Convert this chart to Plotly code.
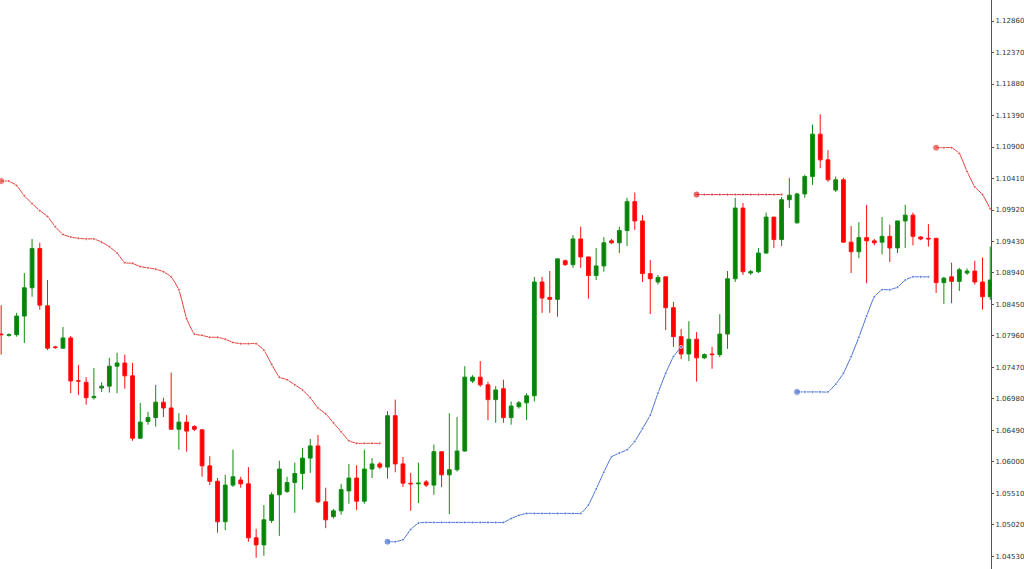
import plotly.graph_objects as go

# OHLC per bar (index = bar number)
opens = [1.0799, 1.0797, 1.0798, 1.0827, 1.0871, 1.0932, 1.0843, 1.0779, 1.0777, 1.0793,
         1.0726, 1.0724, 1.0700, 1.0715, 1.0718, 1.0749, 1.0754, 1.0734, 1.0637, 1.0663,
         1.0669, 1.0693, 1.0684, 1.0651, 1.0662, 1.0655, 1.0650, 1.0594, 1.0570, 1.0507,
         1.0564, 1.0572, 1.0566, 1.0482, 1.0471, 1.0509, 1.0549, 1.0554, 1.0568, 1.0582,
         1.0606, 1.0625, 1.0538, 1.0515, 1.0524, 1.0555, 1.0575, 1.0539, 1.0589, 1.0597,
         1.0592, 1.0672, 1.0597, 1.0567, 1.0566, 1.0569, 1.0564, 1.0616, 1.0580, 1.0588,
         1.0617, 1.0726, 1.0732, 1.0720, 1.0697, 1.0714, 1.0669, 1.0686, 1.0692, 1.0703,
         1.0880, 1.0856, 1.0853, 1.0913, 1.0907, 1.0947, 1.0919, 1.0890, 1.0905, 1.0944,
         1.0941, 1.0960, 1.1005, 1.0975, 1.0893, 1.0880, 1.0888, 1.0840, 1.0795, 1.0768,
         1.0791, 1.0762, 1.0768, 1.0767, 1.0799, 1.0885, 1.0995, 1.0894, 1.0896, 1.0925,
         1.0981, 1.0946, 1.1008, 1.0972, 1.1017, 1.1044, 1.1110, 1.1070, 1.1023, 1.1039,
         1.0942, 1.0927, 1.0949, 1.0944, 1.0942, 1.0951, 1.0933, 1.0975, 1.0984, 1.0950,
         1.0948, 1.0948, 1.0879, 1.0888, 1.0881, 1.0894, 1.0897, 1.0880, 1.0857]
highs = [1.0844, 1.0800, 1.0832, 1.0894, 1.0947, 1.0941, 1.0883, 1.0781, 1.0810, 1.0796,
         1.0751, 1.0732, 1.0746, 1.0724, 1.0762, 1.0770, 1.0767, 1.0754, 1.0692, 1.0678,
         1.0720, 1.0700, 1.0739, 1.0676, 1.0673, 1.0657, 1.0651, 1.0609, 1.0575, 1.0580,
         1.0619, 1.0577, 1.0592, 1.0496, 1.0533, 1.0553, 1.0602, 1.0577, 1.0599, 1.0622,
         1.0636, 1.0642, 1.0560, 1.0527, 1.0566, 1.0597, 1.0595, 1.0619, 1.0606, 1.0600,
         1.0679, 1.0697, 1.0608, 1.0583, 1.0599, 1.0572, 1.0627, 1.0616, 1.0676, 1.0670,
         1.0749, 1.0735, 1.0757, 1.0725, 1.0718, 1.0728, 1.0694, 1.0695, 1.0707, 1.0888,
         1.0888, 1.0897, 1.0916, 1.0915, 1.0953, 1.0966, 1.0919, 1.0933, 1.0950, 1.0947,
         1.0966, 1.1011, 1.1019, 1.0984, 1.0914, 1.0891, 1.0888, 1.0849, 1.0807, 1.0819,
         1.0802, 1.0769, 1.0779, 1.0830, 1.0897, 1.1011, 1.1003, 1.0899, 1.0933, 1.0988,
         1.0981, 1.1012, 1.1042, 1.1019, 1.1047, 1.1125, 1.1141, 1.1085, 1.1044, 1.1042,
         1.0967, 1.0973, 1.1000, 1.0947, 1.0981, 1.0969, 1.0975, 1.1000, 1.0988, 1.0951,
         1.0970, 1.0948, 1.0888, 1.0910, 1.0902, 1.0901, 1.0913, 1.0918, 1.0935]
lows = [1.0767, 1.0795, 1.0795, 1.0785, 1.0857, 1.0837, 1.0774, 1.0776, 1.0776, 1.0707,
        1.0704, 1.0689, 1.0697, 1.0709, 1.0708, 1.0707, 1.0714, 1.0633, 1.0636, 1.0658,
        1.0655, 1.0670, 1.0650, 1.0619, 1.0616, 1.0648, 1.0577, 1.0564, 1.0490, 1.0494,
        1.0561, 1.0560, 1.0476, 1.0451, 1.0454, 1.0505, 1.0485, 1.0552, 1.0521, 1.0557,
        1.0583, 1.0536, 1.0497, 1.0512, 1.0518, 1.0535, 1.0525, 1.0535, 1.0575, 1.0589,
        1.0574, 1.0584, 1.0561, 1.0524, 1.0536, 1.0561, 1.0549, 1.0561, 1.0519, 1.0585,
        1.0616, 1.0723, 1.0717, 1.0665, 1.0661, 1.0661, 1.0658, 1.0683, 1.0665, 1.0694,
        1.0832, 1.0832, 1.0826, 1.0905, 1.0902, 1.0902, 1.0854, 1.0883, 1.0896, 1.0939,
        1.0925, 1.0936, 1.0961, 1.0880, 1.0830, 1.0876, 1.0805, 1.0779, 1.0760, 1.0757,
        1.0725, 1.0760, 1.0745, 1.0763, 1.0776, 1.0880, 1.0891, 1.0891, 1.0894, 1.0924,
        1.0933, 1.0936, 1.0995, 1.0971, 1.1011, 1.1031, 1.1057, 1.1036, 1.1020, 1.0941,
        1.0894, 1.0917, 1.0878, 1.0937, 1.0923, 1.0911, 1.0925, 1.0933, 1.0937, 1.0945,
        1.0935, 1.0863, 1.0846, 1.0847, 1.0866, 1.0891, 1.0876, 1.0837, 1.0852]
closes = [1.0798, 1.0798, 1.0827, 1.0871, 1.0932, 1.0844, 1.0777, 1.0778, 1.0793, 1.0726,
          1.0726, 1.0700, 1.0702, 1.0718, 1.0749, 1.0754, 1.0734, 1.0637, 1.0662, 1.0669,
          1.0693, 1.0684, 1.0651, 1.0662, 1.0648, 1.0651, 1.0594, 1.0570, 1.0507, 1.0564,
          1.0577, 1.0566, 1.0482, 1.0471, 1.0510, 1.0549, 1.0589, 1.0568, 1.0582, 1.0606,
          1.0625, 1.0538, 1.0510, 1.0524, 1.0557, 1.0575, 1.0539, 1.0589, 1.0597, 1.0592,
          1.0672, 1.0597, 1.0567, 1.0566, 1.0567, 1.0564, 1.0616, 1.0580, 1.0588, 1.0617,
          1.0732, 1.0732, 1.0720, 1.0697, 1.0712, 1.0669, 1.0687, 1.0692, 1.0703, 1.0880,
          1.0855, 1.0853, 1.0916, 1.0907, 1.0947, 1.0919, 1.0890, 1.0905, 1.0941, 1.0941,
          1.0960, 1.1005, 1.0975, 1.0893, 1.0885, 1.0887, 1.0840, 1.0795, 1.0768, 1.0791,
          1.0762, 1.0767, 1.0767, 1.0799, 1.0885, 1.0995, 1.0896, 1.0896, 1.0925, 1.0981,
          1.0946, 1.1008, 1.1015, 1.1017, 1.1044, 1.1110, 1.1070, 1.1039, 1.1039, 1.0942,
          1.0927, 1.0949, 1.0944, 1.0941, 1.0951, 1.0933, 1.0975, 1.0984, 1.0951, 1.0947,
          1.0947, 1.0879, 1.0886, 1.0881, 1.0899, 1.0897, 1.0880, 1.0857, 1.0883]
bars = list(range(len(opens)))

# trailing stop style lines: (first bar, values)
red_1 = (0, [1.1037, 1.1037, 1.1030, 1.1014, 1.1002, 1.0991, 1.0982, 1.0966, 1.0954, 1.0950,
             1.0948, 1.0947, 1.0947, 1.0942, 1.0935, 1.0925, 1.0910, 1.0909, 1.0904, 1.0902,
             1.0900, 1.0896, 1.0888, 1.0868, 1.0823, 1.0799, 1.0797, 1.0794, 1.0794, 1.0791,
             1.0786, 1.0784, 1.0784, 1.0784, 1.0774, 1.0752, 1.0732, 1.0728, 1.0720, 1.0712,
             1.0700, 1.0684, 1.0675, 1.0661, 1.0647, 1.0633, 1.0629, 1.0629, 1.0629, 1.0629])
blue_1 = (50, [1.0476, 1.0476, 1.0479, 1.0495, 1.0505, 1.0506, 1.0506, 1.0506, 1.0506, 1.0506,
               1.0506, 1.0506, 1.0506, 1.0506, 1.0506, 1.0506, 1.0512, 1.0517, 1.0520, 1.0520,
               1.0520, 1.0520, 1.0520, 1.0520, 1.0520, 1.0520, 1.0533, 1.0558, 1.0584, 1.0608,
               1.0614, 1.0619, 1.0632, 1.0652, 1.0673, 1.0707, 1.0738, 1.0764, 1.0779])
red_2 = (90, [1.1016] * 12)
blue_2 = (103, [1.0709, 1.0709, 1.0709, 1.0709, 1.0709, 1.0721, 1.0738, 1.0764, 1.0794,
                1.0827, 1.0857, 1.0868, 1.0868, 1.0872, 1.0883, 1.0888, 1.0888, 1.0888])
red_3 = (121, [1.1089, 1.1089, 1.1089, 1.1080, 1.1052, 1.1028, 1.1016, 1.0994])

price_ticks = [1.0453, 1.0502, 1.0551, 1.0600, 1.0649, 1.0698, 1.0747, 1.0796, 1.0845,
               1.0894, 1.0943, 1.0992, 1.1041, 1.1090, 1.1139, 1.1188, 1.1237, 1.1286]

fig = go.Figure()
fig.add_trace(go.Candlestick(
    x=bars, open=opens, high=highs, low=lows, close=closes,
    increasing=dict(line=dict(color="#118c11", width=1), fillcolor="#0a820a"),
    decreasing=dict(line=dict(color="#ff1010", width=1), fillcolor="#ff0000"),
    whiskerwidth=0,
))

for (start, vals), col in [(red_1, "#e0403a"), (blue_1, "#4a72d4"), (red_2, "#e0202a"),
                           (blue_2, "#4a72d4"), (red_3, "#e0403a")]:
    xs = list(range(start, start + len(vals)))
    sizes = [7] + [3] * (len(vals) - 1)
    fig.add_trace(go.Scatter(x=xs, y=vals, mode="lines+markers",
                             line=dict(color=col, width=1, shape="spline", smoothing=0.4),
                             marker=dict(color=col, size=sizes)))

fig.update_layout(
    width=1024, height=569,
    margin=dict(l=0, r=30, t=0, b=0),
    paper_bgcolor="white", plot_bgcolor="white",
    showlegend=False,
    xaxis=dict(range=[-0.15, 128.1], visible=False, rangeslider=dict(visible=False)),
    yaxis=dict(range=[1.04335, 1.13187], side="right", tickvals=price_ticks,
               ticktext=[f"{v:.5f}" for v in price_ticks],
               showgrid=False, zeroline=False,
               showline=True, linecolor="#555", linewidth=1,
               ticks="outside", ticklen=2, tickcolor="#555",
               tickfont=dict(family="DejaVu Sans", size=7, color="#333")),
)

fig.write_html("out.html", config={"displayModeBar": False},
               post_script="document.body.style.margin='0';document.body.style.overflow='hidden';")
